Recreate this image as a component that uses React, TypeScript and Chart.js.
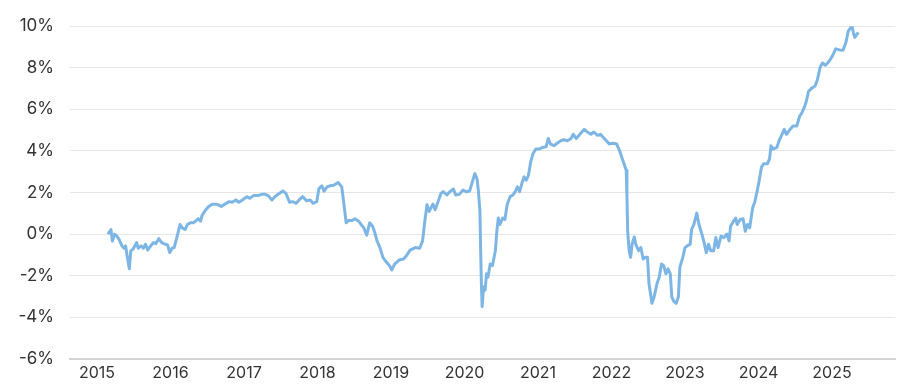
import React, { useEffect, useRef } from "react";
import { Chart, registerables } from "chart.js";

Chart.register(...registerables);

const yearTicks = [2015, 2016, 2017, 2018, 2019, 2020, 2021, 2022, 2023, 2024, 2025];
const yTicks = [-6, -4, -2, 0, 2, 4, 6, 8, 10];

const dates = [
  2015.15, 2015.19, 2015.21, 2015.24, 2015.27, 2015.30, 2015.34, 2015.37, 2015.39, 2015.41,
  2015.44, 2015.46, 2015.49, 2015.54, 2015.56, 2015.60, 2015.63, 2015.66, 2015.69, 2015.73,
  2015.77, 2015.80, 2015.84, 2015.88, 2015.93, 2015.96, 2015.99, 2016.02, 2016.05, 2016.08,
  2016.13, 2016.16, 2016.20, 2016.23, 2016.27, 2016.31, 2016.34, 2016.38, 2016.41, 2016.43,
  2016.48, 2016.52, 2016.57, 2016.63, 2016.69, 2016.74, 2016.80, 2016.84, 2016.89, 2016.93,
  2016.98, 2017.04, 2017.08, 2017.13, 2017.19, 2017.24, 2017.29, 2017.33, 2017.38, 2017.42,
  2017.45, 2017.53, 2017.57, 2017.62, 2017.66, 2017.71, 2017.75, 2017.80, 2017.85, 2017.90,
  2017.94, 2017.99, 2018.02, 2018.06, 2018.09, 2018.13, 2018.17, 2018.22, 2018.28, 2018.33,
  2018.35, 2018.39, 2018.42, 2018.47, 2018.51, 2018.56, 2018.60, 2018.63, 2018.67, 2018.71,
  2018.75, 2018.78, 2018.81, 2018.85, 2018.89, 2018.94, 2018.98, 2019.01, 2019.05, 2019.11,
  2019.17, 2019.21, 2019.26, 2019.33, 2019.39, 2019.43, 2019.46, 2019.49, 2019.52, 2019.57,
  2019.60, 2019.64, 2019.68, 2019.71, 2019.76, 2019.80, 2019.85, 2019.88, 2019.93, 2019.98,
  2020.02, 2020.07, 2020.10, 2020.14, 2020.17, 2020.19, 2020.21, 2020.22, 2020.23, 2020.24,
  2020.26, 2020.28, 2020.30, 2020.32, 2020.35, 2020.38, 2020.42, 2020.44, 2020.46, 2020.48,
  2020.52, 2020.55, 2020.58, 2020.62, 2020.66, 2020.69, 2020.72, 2020.75, 2020.78, 2020.81,
  2020.84, 2020.87, 2020.90, 2020.93, 2020.97, 2021.02, 2021.06, 2021.11, 2021.14, 2021.17,
  2021.22, 2021.26, 2021.31, 2021.35, 2021.40, 2021.45, 2021.48, 2021.52, 2021.57, 2021.63,
  2021.67, 2021.72, 2021.76, 2021.81, 2021.85, 2021.89, 2021.93, 2021.97, 2022.02, 2022.07,
  2022.11, 2022.14, 2022.17, 2022.20, 2022.21, 2022.22, 2022.24, 2022.26, 2022.28, 2022.31,
  2022.33, 2022.37, 2022.40, 2022.43, 2022.46, 2022.49, 2022.51, 2022.55, 2022.58, 2022.62,
  2022.65, 2022.68, 2022.71, 2022.74, 2022.77, 2022.80, 2022.82, 2022.85, 2022.88, 2022.91,
  2022.93, 2022.97, 2023.00, 2023.03, 2023.07, 2023.09, 2023.12, 2023.16, 2023.19, 2023.23,
  2023.26, 2023.29, 2023.32, 2023.35, 2023.39, 2023.42, 2023.45, 2023.49, 2023.53, 2023.57,
  2023.60, 2023.62, 2023.66, 2023.69, 2023.71, 2023.75, 2023.79, 2023.82, 2023.85, 2023.88,
  2023.92, 2023.95, 2023.98, 2024.01, 2024.04, 2024.07, 2024.12, 2024.15, 2024.17, 2024.20,
  2024.25, 2024.28, 2024.32, 2024.35, 2024.38, 2024.43, 2024.47, 2024.52, 2024.56, 2024.59,
  2024.62, 2024.65, 2024.68, 2024.72, 2024.77, 2024.80, 2024.84, 2024.87, 2024.91, 2024.94,
  2024.97, 2025.01, 2025.05, 2025.10, 2025.15, 2025.19, 2025.22, 2025.27, 2025.29, 2025.31,
  2025.34, 2025.36,
];

const values = [
  0.0, 0.22, -0.33, 0.0, -0.1, -0.25, -0.57, -0.68, -0.57, -1.04,
  -1.67, -0.8, -0.73, -0.41, -0.68, -0.57, -0.68, -0.49, -0.77, -0.57,
  -0.41, -0.46, -0.22, -0.41, -0.49, -0.52, -0.89, -0.68, -0.65, -0.25,
  0.46, 0.3, 0.22, 0.46, 0.54, 0.54, 0.62, 0.74, 0.62, 0.9,
  1.17, 1.33, 1.44, 1.44, 1.33, 1.44, 1.56, 1.53, 1.64, 1.53,
  1.64, 1.8, 1.72, 1.85, 1.85, 1.91, 1.91, 1.85, 1.64, 1.8,
  1.88, 2.07, 1.96, 1.53, 1.56, 1.48, 1.64, 1.8, 1.6, 1.64,
  1.48, 1.56, 2.19, 2.32, 2.07, 2.27, 2.32, 2.35, 2.48, 2.27,
  1.72, 0.54, 0.65, 0.65, 0.74, 0.62, 0.43, 0.3, -0.05, 0.54,
  0.38, 0.06, -0.33, -0.65, -1.12, -1.36, -1.52, -1.72, -1.44, -1.25,
  -1.2, -1.04, -0.77, -0.65, -0.68, -0.33, 0.62, 1.41, 1.09, 1.44,
  1.17, 1.56, 1.96, 2.04, 1.88, 2.04, 2.17, 1.88, 1.91, 2.12,
  2.04, 2.07, 2.43, 2.91, 2.67, 2.04, 1.09, -0.8, -2.38, -3.49,
  -2.54, -2.7, -1.91, -2.07, -1.44, -1.52, -0.8, 0.14, 0.77, 0.46,
  0.77, 0.7, 1.41, 1.8, 1.88, 2.04, 2.27, 2.04, 2.43, 2.75,
  2.59, 2.83, 3.46, 3.85, 4.09, 4.09, 4.17, 4.2, 4.6, 4.33,
  4.25, 4.37, 4.49, 4.54, 4.49, 4.6, 4.8, 4.6, 4.8, 5.04,
  4.91, 4.8, 4.91, 4.75, 4.8, 4.64, 4.49, 4.33, 4.37, 4.33,
  4.01, 3.7, 3.38, 3.07, 1.88, 0.14, -0.8, -1.12, -0.49, -0.14,
  -0.49, -0.8, -0.65, -1.2, -1.12, -1.12, -2.38, -3.33, -3.02, -2.38,
  -2.07, -1.44, -1.52, -1.91, -1.67, -1.91, -3.02, -3.25, -3.33, -3.02,
  -1.6, -1.12, -0.65, -0.57, -0.49, 0.22, 0.46, 1.01, 0.46, 0.0,
  -0.41, -0.89, -0.49, -0.8, -0.8, -0.17, -0.65, -0.1, -0.17, 0.0,
  -0.33, 0.38, 0.62, 0.77, 0.46, 0.7, 0.74, 0.14, 0.46, 0.3,
  1.25, 1.56, 2.04, 2.59, 3.22, 3.38, 3.38, 3.62, 4.25, 4.09,
  4.17, 4.49, 4.8, 5.04, 4.8, 5.04, 5.2, 5.2, 5.67, 5.83,
  6.07, 6.38, 6.86, 7.01, 7.12, 7.41, 8.04, 8.23, 8.12, 8.23,
  8.36, 8.6, 8.91, 8.86, 8.84, 9.23, 9.75, 10.02, 9.7, 9.46,
  9.62, 9.7,
];

const FONT = "Inter, 'Open Sans', sans-serif";

export default function App() {
  const ref = useRef<HTMLCanvasElement | null>(null);

  useEffect(() => {
    document.body.style.margin = "0";
    const canvas = ref.current;
    if (!canvas) return;
    const points = dates.map((d, i) => ({ x: d, y: values[i] }));
    const chart = new Chart(canvas, {
      type: "line",
      data: {
        datasets: [
          {
            data: points,
            borderColor: "#7db6e5",
            borderWidth: 3,
            pointRadius: 0,
            tension: 0,
            fill: false,
            borderJoinStyle: "round",
          },
        ],
      },
      options: {
        animation: false,
        responsive: false,
        maintainAspectRatio: false,
        layout: { padding: { left: 0, right: 6, top: 22, bottom: 0 } },
        plugins: { legend: { display: false }, tooltip: { enabled: false } },
        scales: {
          x: {
            type: "linear",
            min: 2014.633,
            max: 2025.857,
            afterBuildTicks: (scale: any) => {
              scale.ticks = yearTicks.map((v) => ({ value: v }));
            },
            afterFit: (scale: any) => {
              scale.height = 25;
            },
            grid: { display: false, drawTicks: false },
            border: { display: true, color: "#d4d4d4", width: 2 },
            ticks: {
              autoSkip: false,
              maxRotation: 0,
              padding: 5,
              color: "#333333",
              font: { family: FONT, size: 16 },
              callback: (v: any) => String(v),
            },
          },
          y: {
            min: -6,
            max: 10,
            afterBuildTicks: (scale: any) => {
              scale.ticks = yTicks.map((v) => ({ value: v }));
            },
            afterFit: (scale: any) => {
              scale.width = 70;
            },
            grid: { color: "#e6e6e6", lineWidth: 1, drawTicks: false },
            border: { display: false },
            ticks: {
              padding: 16,
              color: "#333333",
              font: { family: FONT, size: 17 },
              callback: (v: any) => v + "%",
            },
          },
        },
      },
    });
    return () => chart.destroy();
  }, []);

  return (
    <div style={{ width: 901, height: 385 }}>
      <canvas ref={ref} width={901} height={385} style={{ display: "block" }} />
    </div>
  );
}
